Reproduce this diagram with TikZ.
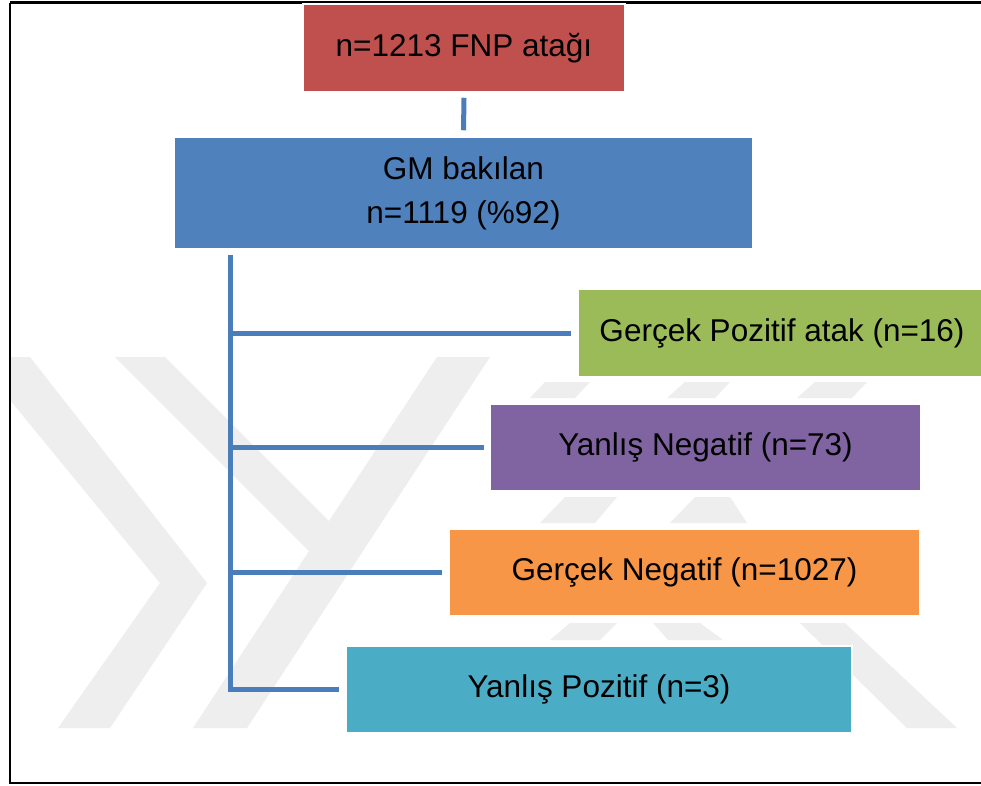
\documentclass[tikz,border=0pt]{standalone}
\usepackage{fontspec}
\setmainfont{Liberation Sans}
\definecolor{cred}{HTML}{C0504D}
\definecolor{cblue}{HTML}{4F81BD}
\definecolor{cgreen}{HTML}{9BBB59}
\definecolor{cpurple}{HTML}{8064A2}
\definecolor{corange}{HTML}{F79646}
\definecolor{ccyan}{HTML}{4BACC6}
\definecolor{cline}{HTML}{4A7EBB}
\definecolor{wm}{HTML}{EEEEEE}
\tikzset{
  box/.style={rectangle, draw=white, line width=1.5pt, inner sep=0pt, align=center,
    font=\fontsize{31.5}{44}\selectfont, text=black},
  conn/.style={draw=cline, line width=5pt},
  wmark/.style={fill=wm, draw=none}
}
\begin{document}
\begin{tikzpicture}[x=1pt,y=-1pt]
\useasboundingbox (0,0) rectangle (981,785);
\fill[white] (0,0) rectangle (981,785);
% watermark (faint)
\fill[wmark] (10,357) -- (30,357) -- (207,583) -- (110,728) -- (58,728) -- (160,583) -- (10,400) -- cycle;
\fill[wmark] (115,357) -- (165,357) -- (329,521) -- (437,357) -- (490,357) -- (247,728) -- (193,728) -- (309,551) -- cycle;
\fill[wmark] (800,623) -- (845,623) -- (957,728) -- (907,728) -- cycle;
\fill[wmark] (545,382) -- (590,382) -- (575,398) -- (530,398) -- cycle;
\fill[wmark] (685,382) -- (730,382) -- (715,398) -- (667,398) -- cycle;
\fill[wmark] (815,382) -- (867,382) -- (852,398) -- (797,398) -- cycle;
\fill[wmark] (565,497) -- (617,497) -- (595,523) -- (540,523) -- cycle;
\fill[wmark] (695,497) -- (730,497) -- (747,523) -- (670,523) -- cycle;
\fill[wmark] (570,623) -- (617,623) -- (600,640) -- (550,640) -- cycle;
\fill[wmark] (653,623) -- (700,623) -- (723,640) -- (668,640) -- cycle;
% frame
\draw[black, line width=2.5pt] (10,2.5) -- (995,2.5) (10,2.5) -- (10,783) -- (995,783);
% nodes
\node[box, fill=cred, minimum width=322pt, minimum height=88pt] (red) at (464,48) {n=1213 FNP atağı};
\node[box, fill=cblue, minimum width=579pt, minimum height=112pt] (blue) at (463.5,193) {GM bakılan\\n=1119 (\%92)};
\node[box, fill=cgreen, minimum width=408pt, minimum height=88pt] (green) at (782,333) {Gerçek Pozitif atak (n=16)};
\node[box, fill=cpurple, minimum width=431pt, minimum height=87pt] (purple) at (705.5,447.5) {Yanlış Negatif (n=73)};
\node[box, fill=corange, minimum width=471pt, minimum height=87pt] (orange) at (684.5,572.5) {Gerçek Negatif (n=1027)};
\node[box, fill=ccyan, minimum width=506pt, minimum height=87pt] (cyan) at (599,689.5) {Yanlış Pozitif (n=3)};
% connectors
\coordinate (trunk) at (230,255);
\draw[conn] ([yshift=-5pt]red.south) -- ([yshift=6pt]blue.north);
\draw[conn] (trunk) -- (trunk |- cyan.west) -- ([xshift=-6pt]cyan.west);
\draw[conn] (trunk |- green.west) -- ([xshift=-6pt]green.west);
\draw[conn] (trunk |- purple.west) -- ([xshift=-5pt]purple.west);
\draw[conn] (trunk |- orange.west) -- ([xshift=-6pt]orange.west);
\end{tikzpicture}
\end{document}
